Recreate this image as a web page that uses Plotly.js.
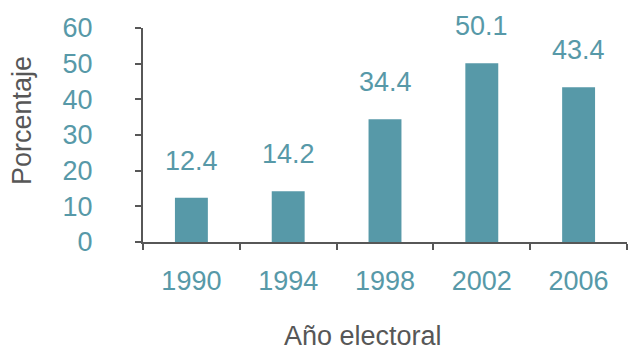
<!DOCTYPE html>
<html>
<head>
<meta charset="utf-8">
<script src="https://cdn.plot.ly/plotly-3.0.1.min.js"></script>
<style>html,body{margin:0;padding:0;background:#fff;}#chart{width:628px;height:353px;}</style>
</head>
<body>
<div id="chart"></div>
<script>
const years = ["1990", "1994", "1998", "2002", "2006"];
const values = [12.4, 14.2, 34.4, 50.1, 43.4];
const yTicks = [0, 10, 20, 30, 40, 50, 60];

const teal = "#5799a8";
const grey = "#575757";
const font = "Liberation Sans, Arial, Helvetica, sans-serif";
const fs = 27;

const trace = {
  type: "bar",
  x: years,
  y: values,
  marker: {color: teal},
  width: 0.34,
  hoverinfo: "skip"
};

const labels = years.map((yr, i) => ({
  x: i, y: values[i], xref: "x", yref: "y",
  text: values[i].toFixed(1),
  showarrow: false, yanchor: "middle", yshift: 37,
  font: {family: font, size: fs, color: teal}
}));

const layout = {
  width: 628, height: 353,
  margin: {l: 143, r: 1, t: 28, b: 111},
  paper_bgcolor: "#fff", plot_bgcolor: "#fff",
  showlegend: false,
  xaxis: {
    type: "category",
    categoryorder: "array", categoryarray: years,
    range: [-0.5, years.length - 0.5],
    tickson: "boundaries",
    ticks: "outside", ticklen: 6, tickwidth: 2, tickcolor: grey,
    showline: true, linecolor: grey, linewidth: 2,
    showgrid: false, zeroline: false,
    tickangle: 0,
    tickfont: {family: font, size: fs, color: teal},
    ticklabelstandoff: 14,
    automargin: false,
    fixedrange: true
  },
  yaxis: {
    range: [0, 60],
    tickvals: yTicks,
    ticktext: yTicks.map(String),
    ticks: "outside", ticklen: 6, tickwidth: 2, tickcolor: grey,
    showline: true, linecolor: grey, linewidth: 2,
    showgrid: false, zeroline: false,
    tickfont: {family: font, size: fs, color: teal},
    ticklabelstandoff: 37,
    automargin: false,
    fixedrange: true
  },
  annotations: labels.concat([
    {
      text: "Porcentaje", xref: "paper", yref: "paper",
      x: (22 - 143) / 484, y: (242 - 121) / 214, xanchor: "center", yanchor: "middle",
      textangle: -90, showarrow: false,
      font: {family: font, size: fs, color: grey}
    },
    {
      text: "Año electoral", xref: "paper", yref: "paper",
      x: (363 - 143) / 484, y: -(336 - 242) / 214, xanchor: "center", yanchor: "middle",
      showarrow: false,
      font: {family: font, size: fs, color: grey}
    }
  ])
};

Plotly.newPlot("chart", [trace], layout, {displayModeBar: false, staticPlot: true});
</script>
</body>
</html>
